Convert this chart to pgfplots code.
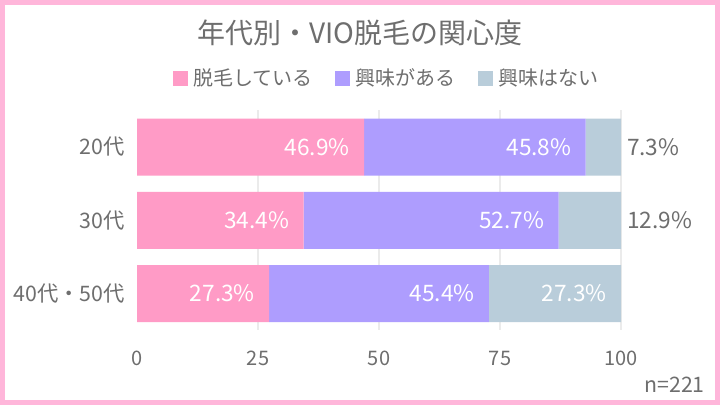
\documentclass[border=0pt]{standalone}
\usepackage{pgfplots}
\pgfplotsset{compat=1.18}
\usepackage{fontspec}
\setmainfont{Noto Sans CJK JP}

\definecolor{cA}{HTML}{FF9BC6}
\definecolor{cB}{HTML}{AE9DFE}
\definecolor{cC}{HTML}{B9CDDA}
\definecolor{txt}{HTML}{6E6E6E}
\definecolor{framec}{HTML}{FFB6DA}
\definecolor{gridc}{HTML}{EBEBEB}

\begin{document}
\begin{tikzpicture}
% 1 px of the 720x405 reference = 0.75pt, origin bottom left
\useasboundingbox (0,0) rectangle (540pt,303.75pt);
\fill[white] (0,0) rectangle (540pt,303.75pt);
\draw[framec, line width=3.75pt] (1.875pt,1.875pt) rectangle (538.125pt,301.875pt);

\node[text=txt, font=\fontsize{21}{25}\selectfont] at (270pt,279pt) {年代別・VIO脱毛の関心度};
\node[text=txt, font=\fontsize{16}{19}\selectfont, anchor=east, inner sep=0] at (528.75pt,15pt) {n=221};

\begin{axis}[
  at={(102.75pt,56pt)}, anchor=south west,
  scale only axis, width=363pt, height=165pt,
  xbar stacked, bar width=42.75pt,
  xmin=0, xmax=100, ymin=-0.5, ymax=2.5, y dir=reverse,
  ytick={0,1,2}, yticklabels={20代,30代,40代・50代},
  xtick={0,25,50,75,100},
  minor xtick={25,50,75,100}, xminorgrids=true,
  minor grid style={gridc, line width=1.5pt},
  axis line style={draw=none},
  major tick style={draw=none}, minor tick style={draw=none},
  /pgf/number format/assume math mode=true,
  xticklabel style={font=\fontsize{15}{18}\selectfont, text=txt, anchor=center, yshift=-21pt},
  yticklabel style={font=\fontsize{16}{19}\selectfont, text=txt, anchor=east, inner sep=0, xshift=-9pt},
  point meta=explicit symbolic,
  visualization depends on={rawx \as \rx},
  nodes near coords={\pgfplotspointmeta},
  % labels sit at the segment centre: move them to its right end, 14px inside
  nodes near coords style={font=\fontsize{17}{20}\selectfont, inner sep=0,
    anchor=east, text=white, xshift={\rx*1.815pt-10.5pt}},
  legend columns=3,
  legend style={at={(0.517,1.145)}, anchor=center, draw=none, fill=none,
    font=\fontsize{15}{18}\selectfont, text=txt,
    /tikz/every odd column/.append style={column sep=2pt},
    /tikz/every even column/.append style={column sep=15pt}},
  legend image code/.code={\fill[#1] (0pt,-5.6pt) rectangle (11.25pt,5.6pt);},
]
\addlegendimage{fill=cA, draw=none}
\addlegendentry{脱毛している}
\addlegendimage{fill=cB, draw=none}
\addlegendentry{興味がある}
\addlegendimage{fill=cC, draw=none}
\addlegendentry{興味はない}

% 脱毛している
\addplot[fill=cA, draw=none, forget plot]
  coordinates {(46.9,0) [46.9\%] (34.4,1) [34.4\%] (27.3,2) [27.3\%]};
% 興味がある
\addplot[fill=cB, draw=none, forget plot]
  coordinates {(45.8,0) [45.8\%] (52.7,1) [52.7\%] (45.4,2) [45.4\%]};
% 興味はない (short bars: label set just right of the bar)
\addplot[fill=cC, draw=none, forget plot]
  coordinates {
    (7.3,0) [{\makebox[0pt][l]{\hspace*{15.75pt}\textcolor{txt}{7.3\%}}}]
    (12.9,1) [{\makebox[0pt][l]{\hspace*{15.75pt}\textcolor{txt}{12.9\%}}}]
    (27.3,2) [27.3\%]};
\end{axis}
\end{tikzpicture}
\end{document}
